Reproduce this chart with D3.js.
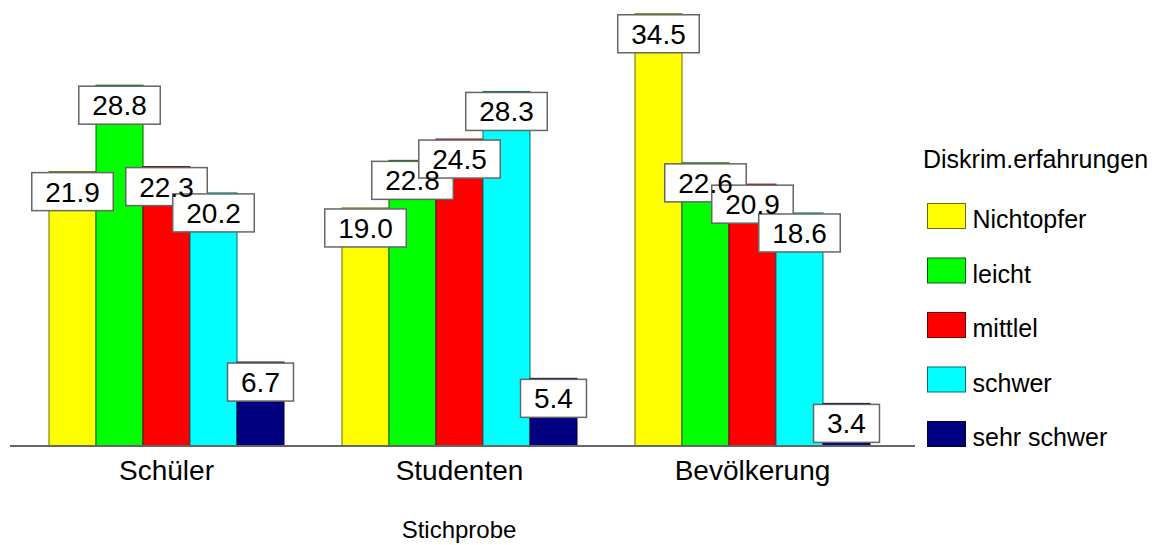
<!DOCTYPE html>
<html><head><meta charset="utf-8">
<script src="https://cdn.jsdelivr.net/npm/d3@7"></script>
<style>body{margin:0;background:#fff}svg{display:block;font-family:"Liberation Sans",Arial,sans-serif}</style>
</head><body><svg id="c" width="1155" height="545"></svg>
<script>
const categories = ["Schüler", "Studenten", "Bevölkerung"];
const seriesNames = ["Nichtopfer", "leicht", "mittlel", "schwer", "sehr schwer"];
const nichtopfer = [21.9, 19.0, 34.5];
const leicht = [28.8, 22.8, 22.6];
const mittlel = [22.3, 24.5, 20.9];
const schwer = [20.2, 28.3, 18.6];
const sehrSchwer = [6.7, 5.4, 3.4];
const seriesValues = [nichtopfer, leicht, mittlel, schwer, sehrSchwer];
const fills = ["#ffff00", "#00ff00", "#ff0000", "#00ffff", "#000080"];
const strokes = ["#6b6b00", "#006000", "#700000", "#007070", "#000030"];
const legendTitle = "Diskrim.erfahrungen";
const axisTitle = "Stichprobe";

const svg = d3.select("#c");
const x0 = d3.scaleBand().domain(categories).range([20, 899]).paddingInner(58/293).paddingOuter(0.099);
const x1 = d3.scaleBand().domain(seriesNames).range([0, x0.bandwidth()]);
const y = d3.scaleLinear().domain([0, 35]).range([446, 7.5]);

const data = [];
categories.forEach((c, ci) => seriesNames.forEach((s, si) => data.push({c, s, si, v: seriesValues[si][ci]})));

// bars
svg.append("g").selectAll("rect").data(data).join("rect")
  .attr("x", d => x0(d.c) + x1(d.s))
  .attr("y", d => y(d.v))
  .attr("width", x1.bandwidth())
  .attr("height", d => y(0) - y(d.v))
  .attr("fill", d => fills[d.si])
  .attr("stroke", d => strokes[d.si])
  .attr("stroke-width", 1);

// baseline
svg.append("line").attr("x1", 10).attr("x2", 915).attr("y1", y(0)).attr("y2", y(0))
  .attr("stroke", "#666").attr("stroke-width", 2);

// labels: boxes first then texts
const fs = 28;
const lab = svg.append("g");
const texts = lab.selectAll("text.t").data(data).join("text").attr("class","t")
  .attr("x", d => x0(d.c) + x1(d.s) + x1.bandwidth()/2)
  .attr("y", d => y(d.v) + 30)
  .attr("text-anchor", "middle")
  .attr("font-size", fs)
  .attr("fill", "#000")
  .text(d => d.v.toFixed(1));
const widths = [];
texts.each(function(){ widths.push(this.getComputedTextLength()); });
lab.selectAll("rect").data(data).join("rect")
  .attr("x", (d,i) => x0(d.c) + x1(d.s) + x1.bandwidth()/2 - (widths[i] + 27)/2)
  .attr("y", d => y(d.v) + 1)
  .attr("width", (d,i) => widths[i] + 27)
  .attr("height", 38)
  .attr("fill", "#fff")
  .attr("stroke", "#666")
  .attr("stroke-width", 1.5);
texts.raise();

// category labels
svg.append("g").selectAll("text").data(categories).join("text")
  .attr("x", d => x0(d) + x0.bandwidth()/2)
  .attr("y", 480)
  .attr("text-anchor", "middle")
  .attr("font-size", 28)
  .text(d => d);

svg.append("text").attr("x", 459).attr("y", 538).attr("text-anchor", "middle")
  .attr("font-size", 24).text(axisTitle);

// legend
const lg = svg.append("g");
lg.append("text").attr("x", 923).attr("y", 168).attr("font-size", 25).text(legendTitle);
const item = lg.selectAll("g").data(seriesNames).join("g")
  .attr("transform", (d,i) => `translate(927.5,${203.5 + i*54.5})`);
item.append("rect").attr("width", 38).attr("height", 25)
  .attr("fill", (d,i) => fills[i]).attr("stroke", (d,i) => strokes[i]).attr("stroke-width", 1);
item.append("text").attr("x", 45).attr("y", 24.5).attr("font-size", 25).text(d => d);
</script></body></html>
